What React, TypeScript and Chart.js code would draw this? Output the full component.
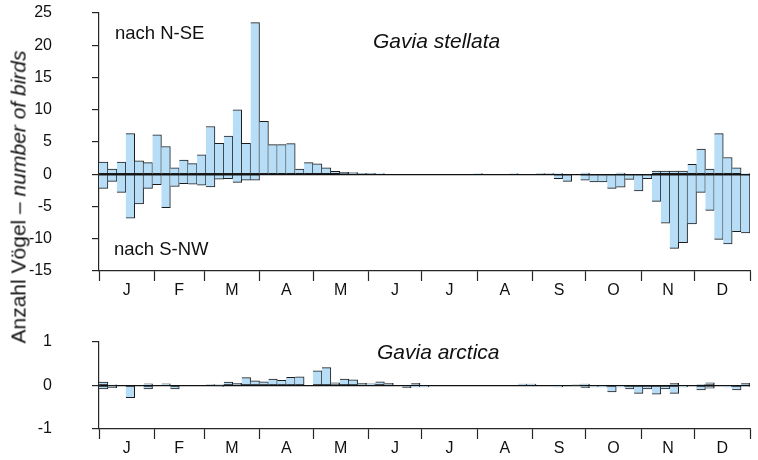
import React, { useEffect, useRef } from 'react';
import { Chart, registerables } from 'chart.js';
Chart.register(...registerables);

const MONTHS = ['J', 'F', 'M', 'A', 'M', 'J', 'J', 'A', 'S', 'O', 'N', 'D'];
const MONTH_STARTS = [0, 31, 59, 90, 120, 151, 181, 212, 243, 273, 304, 334, 365];
const PENTAD_DAYS = 5;

// Gavia stellata, pentad sums (73 pentads)
const stellataNSE = [
  1.9, 0.8, 1.9, 6.3, 2.1, 1.8, 6.1, 4.3, 1.0, 2.2,
  1.65, 3.0, 7.4, 4.8, 5.9, 10.0, 4.8, 23.5, 8.2, 4.6,
  4.6, 4.75, 0.8, 1.8, 1.6, 1.0, 0.45, 0.3, 0.25, 0.15,
  0.15, 0.1, 0, 0, 0, 0, 0, 0, 0, 0,
  0, 0, 0.1, 0, 0, 0, 0.1, 0, 0, 0.05,
  0.05, 0.1, 0, 0, 0.2, 0, 0, 0, 0.2, 0,
  0, 0, 0.5, 0.5, 0.5, 0.5, 1.55, 3.9, 0.8, 6.3,
  2.6, 1.0, 0.1,
];
const stellataSNW = [
  -2.2, -1.1, -2.8, -6.8, -4.6, -2.2, -1.6, -5.2, -1.9, -1.45,
  -1.55, -1.7, -1.95, -0.75, -0.7, -1.25, -0.9, -0.9, 0, 0,
  0, 0, 0, 0, 0, 0, 0, 0, 0, 0,
  0, 0, 0, 0, 0, 0, 0, 0, 0, 0,
  0, 0, 0, 0, 0, 0, 0, 0, 0, 0,
  0, -0.7, -1.1, 0, -0.9, -1.2, -1.2, -2.2, -2.0, -0.8,
  -2.6, -0.7, -4.2, -7.6, -11.5, -10.6, -7.7, -2.8, -5.6, -10.1,
  -10.8, -8.9, -9.1,
];

// Gavia arctica
const arcticaNSE = [
  0.08, 0.015, 0, 0, 0, 0.04, 0, 0.04, 0, 0,
  0, 0, 0.02, 0.01, 0.08, 0.05, 0.18, 0.11, 0.085, 0.15,
  0.12, 0.19, 0.2, 0, 0.34, 0.41, 0.06, 0.15, 0.13, 0.05,
  0.04, 0.085, 0.05, 0, 0, 0.05, 0, 0, 0, 0,
  0, 0, 0, 0, 0, 0, 0, 0.03, 0.03, 0,
  0, 0, 0, 0.01, 0.03, 0, 0, 0, 0, 0,
  0, 0, 0, 0, 0.05, 0, 0, 0.02, 0.06, 0,
  0, 0, 0.05,
];
const arcticaSNW = [
  -0.08, -0.05, 0, -0.28, 0, -0.08, 0, 0, -0.08, 0,
  0, 0, 0, -0.02, 0, 0, 0, 0, 0, 0,
  0, 0, 0, 0, 0, 0, 0, 0, 0, 0,
  0, 0, 0, 0, -0.05, -0.03, -0.03, 0, 0, 0,
  0, 0, 0, 0, 0, 0, 0, 0, 0, 0,
  0, -0.03, 0, 0, -0.05, -0.03, -0.03, -0.15, -0.03, -0.08,
  -0.18, -0.08, -0.2, -0.08, -0.18, -0.03, 0, -0.1, -0.06, 0,
  -0.03, -0.1, -0.02,
];

const FONT = "'Liberation Sans', Arial, Helvetica, sans-serif";
const FILL = '#b7def6';
const EDGE = '#1c1c1c';
const AXIS = '#262626';

const MID_LABELS: Record<string, string> = {};
MONTHS.forEach((m, i) => {
  MID_LABELS[String((MONTH_STARTS[i] + MONTH_STARTS[i + 1]) / 2)] = m;
});
const X_TICKS = [
  ...MONTH_STARTS,
  ...MONTHS.map((_, i) => (MONTH_STARTS[i] + MONTH_STARTS[i + 1]) / 2),
].sort((a, b) => a - b);
const isBoundary = (v: number) => MONTH_STARTS.includes(v);

function toPoints(arr: number[]) {
  return arr.map((y, i) => ({ x: PENTAD_DAYS * i + PENTAD_DAYS / 2, y }));
}

function makeConfig(pos: number[], neg: number[], min: number, max: number, step: number, padTop: number, xHeight: number): any {
  const ds = (data: number[]) => ({
    data: toPoints(data),
    backgroundColor: FILL,
    borderColor: EDGE,
    borderWidth: { top: 1, bottom: 1, left: 0, right: 1 },
    borderSkipped: false,
    barPercentage: 1,
    categoryPercentage: 1,
    stack: 's',
  });
  return {
    type: 'bar',
    data: { datasets: [ds(pos), ds(neg)] },
    options: {
      responsive: false,
      maintainAspectRatio: false,
      animation: false,
      events: [],
      layout: { padding: { top: padTop, right: 8, left: 0, bottom: 0 } },
      plugins: { legend: { display: false }, tooltip: { enabled: false }, title: { display: false } },
      scales: {
        x: {
          type: 'linear',
          min: 0,
          max: 365,
          stacked: true,
          offset: false,
          afterBuildTicks: (s: any) => {
            s.ticks = X_TICKS.map((v) => ({ value: v }));
          },
          afterFit: (s: any) => {
            s.height = xHeight;
            s.paddingLeft = 0;
            s.paddingRight = 0;
          },
          ticks: {
            autoSkip: false,
            maxRotation: 0,
            minRotation: 0,
            padding: 0,
            color: '#111',
            font: { family: FONT, size: 16 },
            callback: (v: number) => MID_LABELS[String(v)] ?? '',
          },
          grid: {
            drawOnChartArea: false,
            offset: false,
            tickLength: 10,
            tickWidth: 1.2,
            tickColor: (ctx: any) => (ctx.tick && isBoundary(ctx.tick.value) ? AXIS : 'rgba(0,0,0,0)'),
          },
          border: { display: true, color: AXIS, width: 1.2 },
        },
        y: {
          min,
          max,
          stacked: true,
          afterFit: (s: any) => {
            s.width = 99;
            s.paddingTop = 0;
            s.paddingBottom = 0;
          },
          ticks: {
            stepSize: step,
            padding: 40,
            color: '#111',
            font: { family: FONT, size: 16 },
          },
          grid: {
            drawOnChartArea: true,
            color: (ctx: any) => (ctx.tick && ctx.tick.value === 0 ? '#111' : 'rgba(0,0,0,0)'),
            lineWidth: 1.2,
            tickColor: AXIS,
            tickLength: 7,
            tickWidth: 1.2,
          },
          border: { display: true, color: AXIS, width: 1.2 },
        },
      },
    },
  };
}

function Panel(props: { pos: number[]; neg: number[]; min: number; max: number; step: number; padTop: number; xHeight: number; height: number; top: number }) {
  const ref = useRef<HTMLCanvasElement | null>(null);
  useEffect(() => {
    if (!ref.current) return;
    const chart = new Chart(ref.current, makeConfig(props.pos, props.neg, props.min, props.max, props.step, props.padTop, props.xHeight));
    return () => chart.destroy();
  }, []);
  return (
    <canvas
      ref={ref}
      width={758}
      height={props.height}
      style={{ position: 'absolute', left: 0, top: props.top, width: 758, height: props.height, display: 'block' }}
    />
  );
}

const textStyle = (size: number, italic: boolean): React.CSSProperties => ({
  position: 'absolute',
  fontFamily: FONT,
  fontSize: size,
  lineHeight: `${size}px`,
  fontStyle: italic ? 'italic' : 'normal',
  color: '#111',
  whiteSpace: 'nowrap',
});

export default function App() {
  return (
    <div style={{ position: 'absolute', left: 0, top: 0, width: 758, height: 460, background: '#fff', overflow: 'hidden' }}>
      <Panel pos={stellataNSE} neg={stellataSNW} min={-15} max={25} step={5} padTop={13} xHeight={29} height={300} top={0} />
      <Panel pos={arcticaNSE} neg={arcticaSNW} min={-1} max={1} step={1} padTop={22} xHeight={31} height={140} top={320} />
      <div style={{ ...textStyle(18.5, false), left: 115, top: 23.5 }}>nach N-SE</div>
      <div style={{ ...textStyle(18.5, false), left: 114, top: 239.5 }}>nach S-NW</div>
      <div style={{ ...textStyle(21, true), left: 373, top: 30 }}>Gavia stellata</div>
      <div style={{ ...textStyle(21, true), left: 377, top: 341 }}>Gavia arctica</div>
      <div
        style={{
          ...textStyle(21, false),
          left: 18,
          top: 197,
          transform: 'translate(-50%, -50%) rotate(-90deg)',
        }}
      >
        Anzahl Vögel – <span style={{ fontStyle: 'italic' }}>number of birds</span>
      </div>
    </div>
  );
}
